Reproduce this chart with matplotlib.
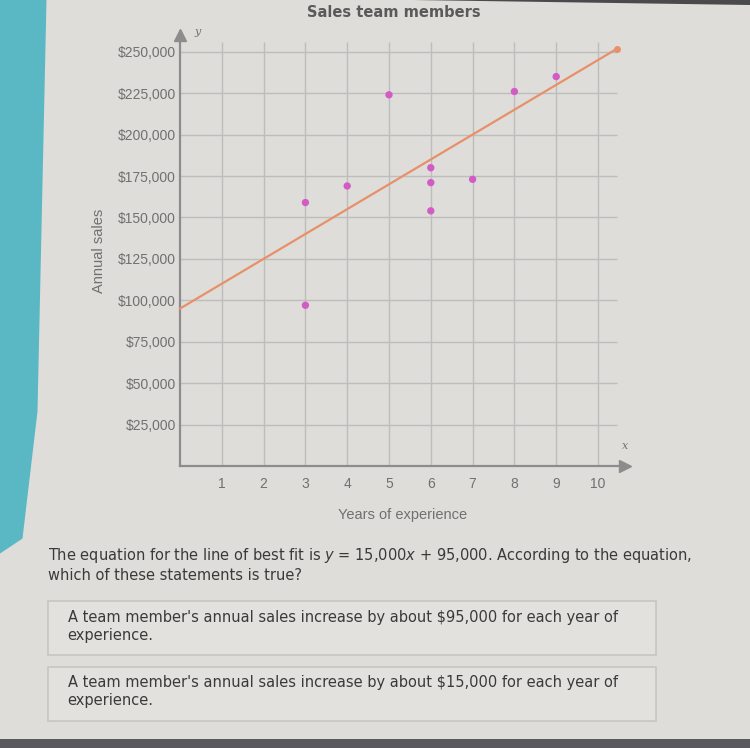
import numpy as np
import matplotlib.pyplot as plt
from matplotlib.patches import Rectangle, Polygon

#   Data
years = [3, 3, 4, 5, 6, 6, 6, 7, 8, 9]
sales = [159000, 97000, 169000, 224000, 180000, 171000, 154000, 173000, 226000, 235000]
slope = 15000
intercept = 95000
yTicks = [25000, 50000, 75000, 100000, 125000, 150000, 175000, 200000, 225000, 250000]
yTickLabels = ["${:,}".format(v) for v in yTicks]
xTicks = [1, 2, 3, 4, 5, 6, 7, 8, 9, 10]

bg = "#dfddd9"
gridCol = "#bdbdbb"
textCol = "#707070"
dotCol = "#d25cc4"
lineCol = "#e8906a"

fig = plt.figure(figsize=(7.5, 7.48), dpi=100)
fig.patch.set_facecolor(bg)

#   teal strip on the left and dark edges of the photo
fig.patches.append(Polygon([[0, 1.0], [0.062, 1.0], [0.05, 0.45], [0.03, 0.28], [0, 0.26]], closed=True,
                           transform=fig.transFigure, facecolor="#5ab8c4", edgecolor="none"))
fig.patches.append(Rectangle((0, 0), 1, 0.012, transform=fig.transFigure,
                             facecolor="#5a5a5c", edgecolor="none"))
fig.patches.append(Polygon([[0.55, 1.0], [1.0, 1.0], [1.0, 0.993]], closed=True,
                           transform=fig.transFigure, facecolor="#4a4a4c", edgecolor="none"))

ax = fig.add_axes([0.24, 0.377, 0.593, 0.576])
ax.set_facecolor(bg)
ax.set_xlim(0, 10.64)
ax.set_ylim(0, 260000)

#   grid
ax.hlines(yTicks, 0, 10.45, color=gridCol, lw=1.0, zorder=1)
ax.vlines(xTicks, 0, 256000, color=gridCol, lw=1.0, zorder=1)

#   axes with arrows
for s in ["top", "right"]:
    ax.spines[s].set_visible(False)
ax.spines["left"].set_color("#8c8c8c")
ax.spines["bottom"].set_color("#8c8c8c")
ax.spines["left"].set_linewidth(1.6)
ax.spines["bottom"].set_linewidth(1.6)
ax.plot(1, 0, ">", color="#8c8c8c", ms=9, transform=ax.transAxes, clip_on=False)
ax.plot(0, 1, "^", color="#8c8c8c", ms=9, transform=ax.transAxes, clip_on=False)
ax.text(1.0, 0.04, "x", transform=ax.transAxes, fontsize=8, style="italic",
        color=textCol, ha="center", family="DejaVu Serif")
ax.text(0.04, 1.0, "y", transform=ax.transAxes, fontsize=8, style="italic",
        color=textCol, ha="center", family="DejaVu Serif")

#   line of best fit
xFit = np.array([0, 10.45])
ax.plot(xFit, slope * xFit + intercept, color=lineCol, lw=1.6, zorder=3, clip_on=False)
ax.plot(xFit[-1], slope * xFit[-1] + intercept, "o", color=lineCol, ms=4, zorder=3, clip_on=False)

#   points
ax.scatter(years, sales, s=28, color=dotCol, zorder=4, edgecolors="none")

ax.set_yticks(yTicks)
ax.set_yticklabels(yTickLabels, fontsize=10, color=textCol, family="Liberation Sans")
ax.set_xticks(xTicks)
ax.set_xticklabels([str(v) for v in xTicks], fontsize=10, color=textCol, family="Liberation Sans")
ax.tick_params(axis="y", length=0, pad=3)
ax.tick_params(axis="x", length=0, pad=8)
ax.set_xlabel("Years of experience", fontsize=10.5, color=textCol, labelpad=12, family="Liberation Sans")
ax.set_ylabel("Annual sales", fontsize=10.5, color=textCol, labelpad=8, family="Liberation Sans")

fig.text(0.525, 0.983, "Sales team members", fontsize=10.5, fontweight="bold",
         color="#5a5a5a", ha="center", va="center")

#   question text
qCol = "#3a3a3a"
fig.text(0.064, 0.257, "The equation for the line of best fit is $y$ = 15,000$x$ + 95,000. According to the equation,",
         fontsize=10.5, color=qCol, va="center")
fig.text(0.064, 0.231, "which of these statements is true?", fontsize=10.5, color=qCol, va="center")

#   answer boxes
for yb, lines in [(0.124, ["A team member's annual sales increase by about $95,000 for each year of",
                           "experience."]),
                  (0.036, ["A team member's annual sales increase by about $15,000 for each year of",
                           "experience."])]:
    fig.patches.append(Rectangle((0.064, yb), 0.81, 0.072, transform=fig.transFigure,
                                 facecolor="#e2e1dd", edgecolor="#c6c6c3", lw=1.2))
    fig.text(0.09, yb + 0.051, lines[0], fontsize=10.5, color=qCol, va="center")
    fig.text(0.09, yb + 0.027, lines[1], fontsize=10.5, color=qCol, va="center")

plt.savefig("out.png", dpi=100, facecolor=bg)
